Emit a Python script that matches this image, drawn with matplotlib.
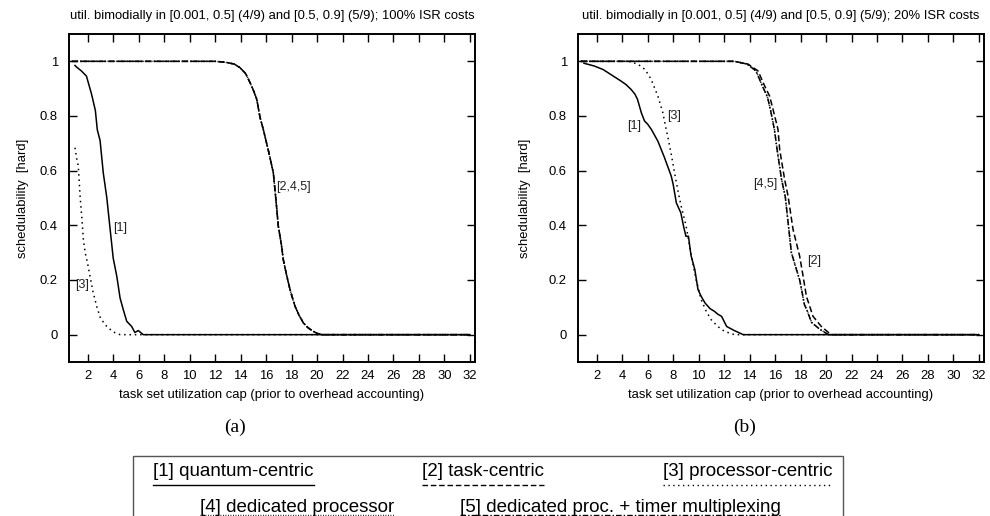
import matplotlib
matplotlib.use("Agg")
import matplotlib.pyplot as plt
from matplotlib.lines import Line2D
from matplotlib.patches import Rectangle
import numpy as np

plt.rcParams["font.family"] = ["Liberation Sans", "DejaVu Sans"]

# ---- data (x = utilization cap, y = schedulability) ----
# (a) 100% ISR costs
a1_x = [1.0, 1.1, 1.5, 1.9, 2.3, 2.6, 2.75, 2.97, 3.22, 3.5, 3.76, 4.0, 4.28, 4.54, 4.8, 5.06, 5.45, 5.7, 5.97, 6.36, 32]
a1_y = [0.985, 0.98, 0.965, 0.946, 0.88, 0.82, 0.75, 0.71, 0.592, 0.50, 0.385, 0.28, 0.214, 0.134, 0.09, 0.049, 0.03, 0.008, 0.015, 0.0, 0.0]

a3_x = [1.0, 1.15, 1.26, 1.4, 1.55, 1.66, 1.8, 1.97, 2.18, 2.4, 2.7, 3.0, 3.49, 4.0, 4.54, 32]
a3_y = [0.684, 0.64, 0.617, 0.507, 0.42, 0.348, 0.30, 0.265, 0.214, 0.16, 0.104, 0.06, 0.03, 0.01, 0.0, 0.0]

# [2], [4], [5] overlap in panel (a)
a245_x = [0.75, 12.0, 12.5, 13.0, 13.5, 13.95, 14.4, 14.74, 15.0, 15.27, 15.52, 15.78, 16.2, 16.57, 16.8,
          16.96, 17.2, 17.35, 17.6, 17.88, 18.1, 18.27, 18.6, 18.93, 19.3, 19.71, 20.0, 20.37, 32]
a245_y = [1.0, 1.0, 0.998, 0.995, 0.99, 0.977, 0.955, 0.922, 0.895, 0.861, 0.796, 0.751, 0.67, 0.592, 0.48,
          0.397, 0.33, 0.275, 0.22, 0.165, 0.13, 0.104, 0.07, 0.043, 0.025, 0.012, 0.005, 0.0, 0.0]

# (b) 20% ISR costs
b1_x = [1.0, 1.8, 2.5, 3.1, 3.5, 3.9, 4.3, 4.7, 5.0, 5.2, 5.5, 5.75, 6.0, 6.3, 6.8, 7.3, 7.85, 8.0, 8.25,
        8.6, 8.8, 9.0, 9.2, 9.4, 9.7, 9.95, 10.2, 10.5, 10.9, 11.25, 11.5, 11.8, 12.2, 12.8, 13.5, 32]
b1_y = [0.993, 0.983, 0.97, 0.952, 0.94, 0.928, 0.915, 0.897, 0.88, 0.861, 0.812, 0.782, 0.77, 0.75, 0.708,
        0.65, 0.58, 0.55, 0.482, 0.446, 0.40, 0.36, 0.36, 0.29, 0.238, 0.165, 0.14, 0.116, 0.095, 0.085,
        0.075, 0.067, 0.03, 0.015, 0.0, 0.0]

b3_x = [0.75, 4.5, 5.22, 5.8, 6.27, 6.8, 7.19, 7.45, 7.6, 7.85, 8.11, 8.4, 8.63, 9.02, 9.42, 9.81, 10.2,
        10.6, 10.98, 11.5, 12.03, 12.81, 32]
b3_y = [1.0, 1.0, 0.99, 0.97, 0.934, 0.873, 0.812, 0.751, 0.72, 0.66, 0.592, 0.52, 0.47, 0.397, 0.29, 0.2,
        0.128, 0.085, 0.055, 0.03, 0.012, 0.0, 0.0]

b2_x = [0.75, 12.82, 13.87, 14.66, 15.18, 15.57, 15.84, 16.23, 16.36, 16.75, 17.02, 17.41, 17.93, 18.2,
        18.46, 18.98, 19.63, 20.4, 32]
b2_y = [1.0, 1.0, 0.99, 0.965, 0.91, 0.873, 0.824, 0.751, 0.678, 0.568, 0.507, 0.385, 0.287, 0.214, 0.14,
        0.067, 0.03, 0.0, 0.0]

# [4] and [5] overlap in panel (b)
b45_x = [0.75, 12.8, 13.8, 14.5, 15.0, 15.4, 15.65, 15.95, 16.15, 16.5, 16.8, 17.28, 17.6, 17.93, 18.1,
         18.3, 18.5, 18.86, 19.5, 20.2, 32]
b45_y = [1.0, 1.0, 0.99, 0.965, 0.91, 0.87, 0.82, 0.75, 0.68, 0.57, 0.505, 0.30, 0.25, 0.2, 0.16,
         0.11, 0.09, 0.045, 0.02, 0.0, 0.0]

xticks = list(range(2, 33, 2))
yticks = [0, 0.2, 0.4, 0.6, 0.8, 1]
titles = ["util. bimodially in [0.001, 0.5] (4/9) and [0.5, 0.9] (5/9); 100% ISR costs",
          "util. bimodially in [0.001, 0.5] (4/9) and [0.5, 0.9] (5/9); 20% ISR costs"]
legend_names = ["[1] quantum-centric", "[2] task-centric", "[3] processor-centric",
                "[4] dedicated processor", "[5] dedicated proc. + timer multiplexing"]

sty = {
    1: dict(ls="-"),
    2: dict(ls=(0, (4, 2))),
    3: dict(ls=(0, (1, 2.5))),
    4: dict(ls=(0, (0.6, 1.2))),
    5: dict(ls=(0, (4, 1.5, 1, 1.5))),
}

W, H = 990, 516
fig = plt.figure(figsize=(W / 100, H / 100), dpi=100)

def px_box(l, t, r, b):
    return [l / W, 1 - b / H, (r - l) / W, (b - t) / H]

ax_a = fig.add_axes(px_box(69, 34, 475, 362))
ax_b = fig.add_axes(px_box(578, 34, 984, 362))

panels = [
    (ax_a, [(a1_x, a1_y, 1), (a245_x, a245_y, 2), (a3_x, a3_y, 3), (a245_x, a245_y, 4), (a245_x, a245_y, 5)],
     [("[1]", 4.0, 0.39, "left"), ("[3]", 1.55, 0.18, "center"), ("[2,4,5]", 16.8, 0.54, "left")]),
    (ax_b, [(b1_x, b1_y, 1), (b2_x, b2_y, 2), (b3_x, b3_y, 3), (b45_x, b45_y, 4), (b45_x, b45_y, 5)],
     [("[1]", 5.5, 0.765, "right"), ("[3]", 7.55, 0.80, "left"), ("[4,5]", 16.2, 0.55, "right"),
      ("[2]", 18.5, 0.27, "left")]),
]

for i, (ax, curves, labels) in enumerate(panels):
    for xs, ys, k in curves:
        ax.plot(xs, ys, color="black", lw=1.1, **sty[k])
    for txt, x, y, ha in labels:
        ax.text(x, y, txt, ha=ha, va="center", fontsize=9, color="#222222")
    ax.set_xlim(0.53, 32.4)
    ax.set_ylim(-0.1, 1.1)
    ax.set_xticks(xticks)
    ax.set_yticks(yticks)
    ax.set_yticklabels(["0", "0.2", "0.4", "0.6", "0.8", "1"])
    ax.tick_params(direction="in", length=6, width=1, top=True, right=True,
                   labelsize=9.4, colors="black")
    ax.tick_params(axis="y", pad=8)
    ax.tick_params(axis="x", pad=6)
    for s in ax.spines.values():
        s.set_linewidth(1.4)
    ax.set_title(titles[i], fontsize=9.4, pad=11)
    ax.set_xlabel("task set utilization cap (prior to overhead accounting)", fontsize=9.4, labelpad=5)
    ax.set_ylabel("schedulability  [hard]", fontsize=9.4, labelpad=8 if i == 0 else 13)
    ax.text(0.41, -0.2, "(a)" if i == 0 else "(b)", transform=ax.transAxes, ha="center", va="center",
            fontsize=14, family=["Liberation Serif", "DejaVu Serif"])

# legend box at the bottom
fig.patches.append(Rectangle((133 / W, 1 - 530 / H), (843 - 133) / W, (530 - 456) / H,
                             transform=fig.transFigure, fill=False, edgecolor="#555555", lw=1.0,
                             clip_on=False))
leg_pos = [(153, 476), (422, 476), (663, 476), (200, 512), (460, 512)]
leg_texts = []
for name, (x, y) in zip(legend_names, leg_pos):
    leg_texts.append(fig.text(x / W, 1 - y / H, name, fontsize=13.5, ha="left", va="baseline"))

fig.canvas.draw()
r = fig.canvas.get_renderer()
for k, t in enumerate(leg_texts, start=1):
    bb = t.get_window_extent(r)
    base = t.get_position()[1]
    yline = base - (8.5 if k <= 3 else 2.5) / H
    fig.lines.append(Line2D([bb.x0 / W, bb.x1 / W], [yline, yline], transform=fig.transFigure,
                            color="black", lw=1.0, **sty[k]))

fig.savefig("out.png", dpi=100)
